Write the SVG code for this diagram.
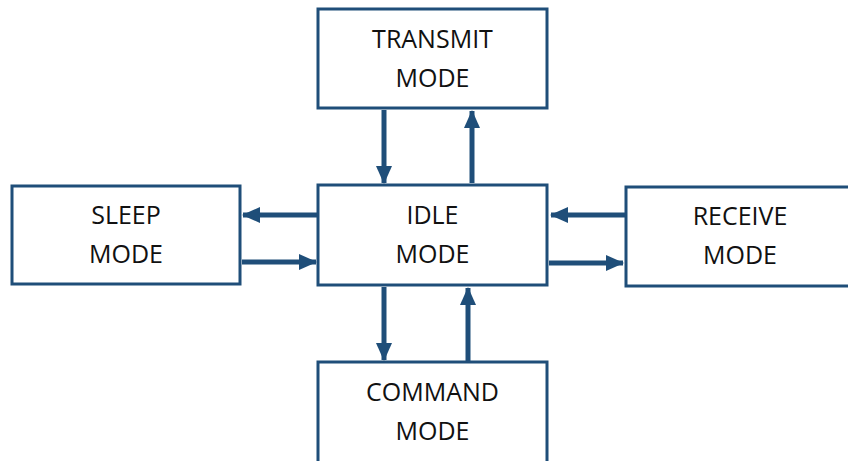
<svg xmlns="http://www.w3.org/2000/svg" width="848" height="461" viewBox="0 0 848 461">
  <style>
    .box { fill: #ffffff; stroke: #1f4e79; stroke-width: 3; }
    .lbl { font-family: "Open Sans", "Liberation Sans", sans-serif; font-size: 25px; fill: #111111; text-anchor: middle; }
    .wire { stroke: #1f4e79; stroke-width: 5; fill: none; }
  </style>
  <defs>
    <marker id="head" markerUnits="userSpaceOnUse" markerWidth="18" markerHeight="18" viewBox="0 0 18 18" refX="17" refY="9" orient="auto">
      <path d="M0,1 L18,9 L0,17 Z" fill="#1f4e79"/>
    </marker>
  </defs>

  <g id="transmit">
    <rect class="box" x="318" y="9" width="229" height="99"/>
    <text class="lbl" x="432.5" y="48">TRANSMIT</text>
    <text class="lbl" x="432.5" y="87">MODE</text>
  </g>
  <g id="idle">
    <rect class="box" x="318" y="185" width="229" height="100"/>
    <text class="lbl" x="432.5" y="224">IDLE</text>
    <text class="lbl" x="432.5" y="263">MODE</text>
  </g>
  <g id="sleep">
    <rect class="box" x="12" y="186" width="228" height="98"/>
    <text class="lbl" x="126" y="224">SLEEP</text>
    <text class="lbl" x="126" y="263">MODE</text>
  </g>
  <g id="receive">
    <rect class="box" x="626" y="187" width="240" height="99"/>
    <text class="lbl" x="740" y="225">RECEIVE</text>
    <text class="lbl" x="740" y="264">MODE</text>
  </g>
  <g id="command">
    <rect class="box" x="318" y="362" width="229" height="120"/>
    <text class="lbl" x="432.5" y="401">COMMAND</text>
    <text class="lbl" x="432.5" y="440">MODE</text>
  </g>

  <g id="connectors">
    <line class="wire" x1="384" y1="110" x2="384" y2="183" marker-end="url(#head)"/>
    <line class="wire" x1="472" y1="183" x2="472" y2="111" marker-end="url(#head)"/>
    <line class="wire" x1="317" y1="215" x2="243" y2="215" marker-end="url(#head)"/>
    <line class="wire" x1="242" y1="262" x2="316" y2="262" marker-end="url(#head)"/>
    <line class="wire" x1="625" y1="215" x2="551" y2="215" marker-end="url(#head)"/>
    <line class="wire" x1="549" y1="263" x2="623" y2="263" marker-end="url(#head)"/>
    <line class="wire" x1="384" y1="287" x2="384" y2="360" marker-end="url(#head)"/>
    <line class="wire" x1="468" y1="361" x2="468" y2="288" marker-end="url(#head)"/>
  </g>
</svg>
